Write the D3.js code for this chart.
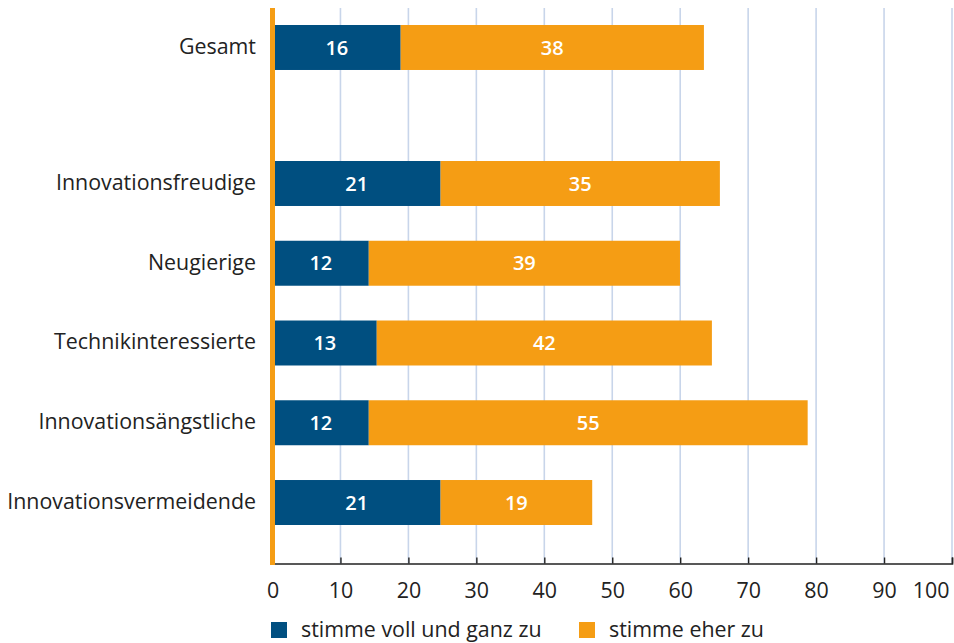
<!DOCTYPE html>
<html lang="de">
<head>
<meta charset="utf-8">
<script src="https://cdn.jsdelivr.net/npm/d3@7"></script>
<style>
  html, body { margin: 0; padding: 0; background: #fff; }
  svg { display: block; font-family: "Open Sans", "Noto Sans", sans-serif; }
</style>
</head>
<body>
<svg id="chart" width="954" height="643"></svg>
<script>
// Zustimmung nach Nutzertyp (Angaben in Prozent)
const categories = [
  "Gesamt",
  "Innovationsfreudige",
  "Neugierige",
  "Technikinteressierte",
  "Innovationsängstliche",
  "Innovationsvermeidende"
];
const vollUndGanz = [16, 21, 12, 13, 12, 21];
const eherZu = [38, 35, 39, 42, 55, 19];
const seriesNames = ["stimme voll und ganz zu", "stimme eher zu"];
const tickValues = [0, 10, 20, 30, 40, 50, 60, 70, 80, 90, 100];

const colors = { voll: "#004f80", eher: "#f59d14" };
const textColor = "#222";
const fontSize = 21.4;

const svg = d3.select("#chart");

// axis grid scale and bar length scale
const x = d3.scaleLinear().domain([0, 100]).range([272.5, 952]);
const xBar = d3.scaleLinear().domain([0, 100]).range([273, 1071]);

// "Gesamt" sits on its own, the user groups follow after a gap
const yTotal = d3.scaleBand().domain([categories[0]]).range([25, 70]).padding(0);
const yGroups = d3.scaleBand().domain(categories.slice(1)).range([161, 525])
  .paddingInner(0.436).paddingOuter(0);
const yPos = c => (c === categories[0] ? yTotal(c) : yGroups(c));
const bh = yGroups.bandwidth();

const plotTop = 8, plotBottom = 563.5;

// vertical grid lines
svg.append("g")
  .selectAll("line")
  .data(tickValues.slice(1))
  .join("line")
  .attr("x1", d => x(d)).attr("x2", d => x(d))
  .attr("y1", plotTop).attr("y2", plotBottom)
  .attr("stroke", "#c8d5ea").attr("stroke-width", 1.6);

// stacked bars
const rows = categories.map((c, i) => ({ c, voll: vollUndGanz[i], eher: eherZu[i] }));
const barG = svg.append("g");
rows.forEach(r => {
  const y0 = yPos(r.c);
  barG.append("rect")
    .attr("x", xBar(0)).attr("y", y0)
    .attr("width", xBar(r.voll) - xBar(0)).attr("height", bh)
    .attr("fill", colors.voll);
  barG.append("rect")
    .attr("x", xBar(r.voll)).attr("y", y0)
    .attr("width", xBar(r.voll + r.eher) - xBar(r.voll)).attr("height", bh)
    .attr("fill", colors.eher);
  barG.append("text")
    .attr("x", (xBar(0) + xBar(r.voll)) / 2).attr("y", y0 + bh / 2)
    .attr("dy", "0.36em").attr("text-anchor", "middle")
    .attr("fill", "#fff").attr("font-size", 20).attr("font-weight", 600)
    .text(r.voll);
  barG.append("text")
    .attr("x", (xBar(r.voll) + xBar(r.voll + r.eher)) / 2).attr("y", y0 + bh / 2)
    .attr("dy", "0.36em").attr("text-anchor", "middle")
    .attr("fill", "#fff").attr("font-size", 20).attr("font-weight", 600)
    .text(r.eher);
});

// category labels
svg.append("g")
  .selectAll("text")
  .data(categories)
  .join("text")
  .attr("x", 256)
  .attr("y", d => yPos(d) + bh / 2)
  .attr("dy", "0.3em")
  .attr("text-anchor", "end")
  .attr("fill", textColor)
  .attr("font-size", fontSize)
  .text(d => d);

// x axis with inward ticks
const axis = d3.axisBottom(x).tickValues(tickValues).tickSize(-6).tickPadding(19)
  .tickFormat(d3.format("d"));
const axisG = svg.append("g")
  .attr("transform", `translate(0,${plotBottom})`)
  .call(axis);
axisG.select(".domain").attr("stroke", textColor).attr("stroke-width", 1.6);
axisG.selectAll(".tick line").attr("stroke", textColor).attr("stroke-width", 1.4);
axisG.selectAll(".tick text")
  .attr("fill", textColor)
  .attr("font-size", fontSize)
  .attr("font-family", "\"Open Sans\", \"Noto Sans\", sans-serif")
  .attr("text-anchor", d => (d === 100 ? "end" : "middle"))
  .attr("dx", d => (d === 100 ? -3 : 0));

// orange zero line
svg.append("rect")
  .attr("x", 270).attr("y", plotTop)
  .attr("width", 5).attr("height", plotBottom + 1.5 - plotTop)
  .attr("fill", colors.eher);

// legend
const legendItems = [
  { name: seriesNames[0], color: colors.voll, x: 271 },
  { name: seriesNames[1], color: colors.eher, x: 579 }
];
const legend = svg.append("g");
legendItems.forEach(it => {
  legend.append("rect")
    .attr("x", it.x).attr("y", 622).attr("width", 16).attr("height", 16)
    .attr("fill", it.color);
  legend.append("text")
    .attr("x", it.x + 30).attr("y", 630)
    .attr("dy", "0.33em")
    .attr("fill", textColor).attr("font-size", fontSize)
    .text(it.name);
});
</script>
</body>
</html>
